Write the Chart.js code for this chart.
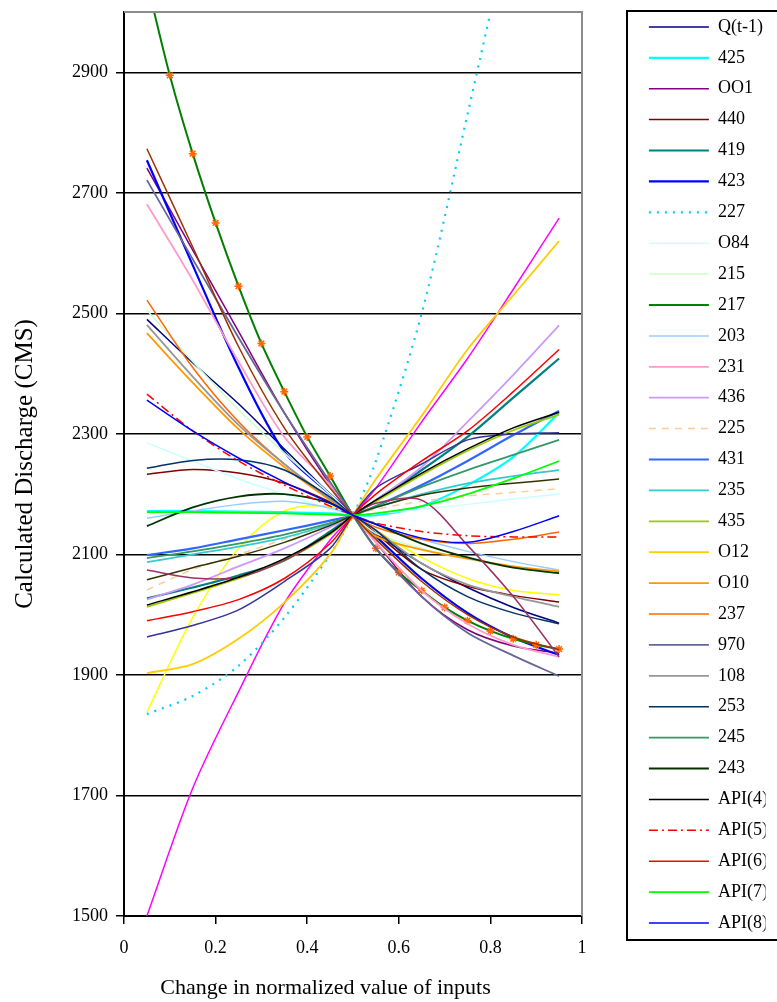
<!DOCTYPE html>
<html>
<head>
<meta charset="utf-8">
<script src="https://cdn.jsdelivr.net/npm/chart.js"></script>
<style>
html,body{margin:0;padding:0;background:#fff;overflow:hidden}
canvas{display:block}
</style>
</head>
<body>
<canvas id="c" width="777" height="1002"></canvas>
<script>
// ---- data ----
const xValues = [0.05,0.15,0.25,0.35,0.45,0.5,0.55,0.65,0.75,0.85,0.95];
const x217 = [0.05,0.1,0.15,0.2,0.25,0.3,0.35,0.4,0.45,0.5,0.55,0.6,0.65,0.7,0.75,0.8,0.85,0.9,0.95];
const yTicks = [1500,1700,1900,2100,2300,2500,2700,2900];
const xTicks = [0,0.2,0.4,0.6,0.8,1];

const qT1   = [2490,2418,2350,2275,2200,2165,2135,2085,2045,2012,1986];
const sMag  = [1500,1712,1872,2019,2124,2165,2210,2320,2425,2540,2658];
const sYel  = [1838,1995,2110,2172,2180,2165,2140,2095,2060,2040,2033];
const s425  = [2172,2172,2171,2170,2168,2165,2165,2180,2215,2262,2335];
const sOO1  = [2741,2605,2470,2335,2215,2165,2120,2030,1975,1948,1936];
const s440  = [2233,2241,2235,2218,2187,2165,2135,2075,2047,2032,2021];
const s419  = [2027,2045,2065,2090,2138,2165,2190,2240,2295,2360,2425];
const s423  = [2754,2580,2410,2270,2200,2165,2130,2060,2003,1962,1933];
const s227  = [1835,1865,1915,1995,2100,2165,2255,2500,2830,3170,3520];
const sO84  = [2285,2255,2225,2200,2175,2166,2168,2175,2183,2192,2200];
const s215  = [2505,2420,2340,2268,2200,2165,2135,2110,2092,2078,2068];
const s217  = [3050,2895,2765,2650,2545,2450,2370,2295,2230,2165,2110,2070,2040,2012,1990,1973,1960,1950,1943];
const s203  = [2160,2172,2183,2188,2177,2165,2150,2125,2105,2088,2074];
const s231  = [2681,2555,2420,2295,2215,2165,2120,2040,1985,1950,1930];
const s436  = [2025,2050,2080,2110,2145,2165,2190,2245,2320,2398,2480];
const s225  = [2041,2075,2100,2125,2150,2165,2175,2188,2197,2203,2209];
const s431  = [2099,2110,2125,2140,2156,2165,2180,2215,2255,2298,2338];
const s235  = [2087,2100,2113,2128,2150,2165,2178,2200,2218,2230,2240];
const s435  = [2013,2036,2060,2090,2133,2165,2188,2232,2272,2306,2332];
const sO12  = [1903,1918,1960,2020,2100,2165,2225,2330,2440,2530,2620];
const sO10  = [2467,2385,2308,2245,2190,2165,2130,2108,2093,2080,2072];
const s237  = [2522,2410,2320,2250,2192,2165,2145,2125,2118,2125,2137];
const s970  = [2721,2590,2460,2335,2220,2165,2110,2030,1970,1932,1898];
const s108  = [2481,2395,2315,2250,2192,2165,2140,2085,2050,2030,2013];
const s253  = [2243,2256,2257,2240,2195,2165,2140,2075,2030,2003,1985];
const s245  = [2094,2105,2118,2133,2152,2165,2180,2212,2240,2265,2290];
const s243  = [2147,2178,2196,2200,2185,2165,2150,2118,2095,2078,2069];
const sOliv = [2058,2078,2097,2120,2148,2165,2178,2198,2210,2218,2225];
const sBrwn = [2773,2610,2445,2310,2210,2165,2125,2055,2000,1963,1942];
const sMauv = [2074,2061,2062,2090,2135,2165,2185,2190,2115,2030,1930];
const sIndg = [1963,1982,2008,2055,2110,2165,2210,2250,2290,2300,2302];
const api4  = [2016,2038,2062,2093,2135,2165,2190,2235,2275,2310,2336];
const api5  = [2366,2305,2255,2215,2180,2165,2152,2138,2131,2129,2129];
const api6  = [1990,2005,2025,2060,2118,2165,2200,2255,2305,2370,2440];
const api7  = [2170,2170,2169,2168,2166,2165,2168,2180,2200,2226,2255];
const api8  = [2356,2305,2260,2220,2185,2165,2150,2127,2120,2138,2164];

// ---- series styling ----
const series = [
  {label:'Q(t-1)', v:qT1,  c:'#000080'},
  {label:'series 2', v:sMag, c:'#FF00FF', noLegend:true},
  {label:'series 3', v:sYel, c:'#FFFF00', noLegend:true},
  {label:'425',    v:s425, c:'#00FFFF', w:2.2},
  {label:'OO1',    v:sOO1, c:'#800080'},
  {label:'440',    v:s440, c:'#800000'},
  {label:'419',    v:s419, c:'#008080', w:2.2},
  {label:'423',    v:s423, c:'#0000FF', w:2.2},
  {label:'227',    v:s227, c:'#00CCFF', w:2.2, dash:[2,6]},
  {label:'O84',    v:sO84, c:'#CCFFFF'},
  {label:'215',    v:s215, c:'#CCFFCC'},
  {label:'217',    v:s217, xs:x217, c:'#008000', w:2, marker:'#FF6600'},
  {label:'203',    v:s203, c:'#99CCFF'},
  {label:'231',    v:s231, c:'#FF99CC', w:1.8},
  {label:'436',    v:s436, c:'#CC99FF', w:1.8},
  {label:'225',    v:s225, c:'#FFCC99', dash:[7,6]},
  {label:'431',    v:s431, c:'#3366FF', w:2.2},
  {label:'235',    v:s235, c:'#33CCCC', w:1.8},
  {label:'435',    v:s435, c:'#99CC00', w:1.8},
  {label:'O12',    v:sO12, c:'#FFCC00', w:1.8},
  {label:'O10',    v:sO10, c:'#FF9900', w:1.8},
  {label:'237',    v:s237, c:'#FF6600'},
  {label:'970',    v:s970, c:'#666699', w:1.8},
  {label:'108',    v:s108, c:'#969696', w:1.8},
  {label:'253',    v:s253, c:'#003366'},
  {label:'245',    v:s245, c:'#339966', w:1.8},
  {label:'243',    v:s243, c:'#003300', w:1.8},
  {label:'series 28', v:sOliv, c:'#333300', noLegend:true},
  {label:'series 29', v:sBrwn, c:'#993300', noLegend:true},
  {label:'series 30', v:sMauv, c:'#993366', noLegend:true},
  {label:'series 31', v:sIndg, c:'#333399', noLegend:true},
  {label:'API(4)', v:api4, c:'#000000'},
  {label:'API(5)', v:api5, c:'#FF0000', dash:[9,4,2,4]},
  {label:'API(6)', v:api6, c:'#FF0000'},
  {label:'API(7)', v:api7, c:'#00FF00', w:1.8},
  {label:'API(8)', v:api8, c:'#0000FF'}
];

const FONT = "'Liberation Serif', 'Times New Roman', serif";

const datasets = series.map((s, i) => ({
  label: s.label,
  data: (s.xs || xValues).map((x, j) => ({x: x, y: s.v[j]})),
  borderColor: s.c,
  backgroundColor: s.c,
  borderWidth: s.w || 1.5,
  borderDash: s.dash || [],
  pointRadius: s.marker ? 4 : 0,
  pointStyle: s.marker ? 'star' : 'circle',
  pointBorderColor: s.marker || s.c,
  pointBackgroundColor: s.marker || s.c,
  pointBorderWidth: 1.5,
  tension: 0.3,
  fill: false,
  order: -i,
  inLegend: !s.noLegend
}));

const PLOT_RIGHT = 582, PLOT_BOTTOM = 916, PLOT_LEFT = 124;

const framePlugin = {
  id: 'frame',
  afterLayout(chart) {
    const lg = chart.legend;
    if (lg) {
      const w = lg.width, h = lg.height;
      lg.left = 636; lg.right = 636 + w;
      lg.top = 5; lg.bottom = 5 + h;
    }
  },
  afterDatasetsDraw(chart) {
    const {ctx, chartArea: a} = chart;
    ctx.save();
    ctx.strokeStyle = '#8c8c8c';
    ctx.lineWidth = 2;
    ctx.beginPath();
    ctx.moveTo(a.left, a.top); ctx.lineTo(a.right, a.top); ctx.lineTo(a.right, a.bottom);
    ctx.stroke();
    ctx.restore();
  },
  afterDraw(chart) {
    const ctx = chart.ctx;
    ctx.save();
    ctx.strokeStyle = '#000';
    ctx.lineWidth = 2;
    ctx.strokeRect(627, 11, 200, 929);
    ctx.restore();
  }
};

new Chart(document.getElementById('c'), {
  type: 'line',
  data: {datasets},
  options: {
    responsive: false,
    animation: false,
    devicePixelRatio: 1,
    events: [],
    layout: {padding: {top: 12, right: 0, bottom: 0, left: 0}},
    plugins: {
      tooltip: {enabled: false},
      legend: {
        display: true,
        position: 'right',
        align: 'start',
        fullSize: true,
        labels: {
          usePointStyle: true,
          pointStyle: 'line',
          pointStyleWidth: 60,
          boxWidth: 60,
          boxHeight: 18,
          padding: 12.9,
          color: '#000',
          font: {family: FONT, size: 18},
          generateLabels: chart => chart.data.datasets.map((ds, i) => ({
            text: ds.label,
            fillStyle: ds.borderColor,
            strokeStyle: ds.borderColor,
            lineWidth: ds.borderWidth,
            lineDash: ds.borderDash,
            lineDashOffset: 0,
            lineCap: 'butt',
            lineJoin: 'miter',
            pointStyle: 'line',
            rotation: 0,
            hidden: false,
            fontColor: '#000',
            datasetIndex: i
          })),
          filter: (item, data) => data.datasets[item.datasetIndex].inLegend
        }
      }
    },
    scales: {
      x: {
        type: 'linear',
        position: 'bottom',
        min: 0, max: 1,
        afterBuildTicks: s => { s.ticks = xTicks.map(v => ({value: v})); },
        afterFit: s => { s.height = 1002 - PLOT_BOTTOM; s.paddingLeft = 0; s.paddingRight = 0; },
        ticks: {color: '#000', font: {family: FONT, size: 18}, padding: 13, maxRotation: 0,
                callback: v => String(v)},
        grid: {display: true, drawOnChartArea: false, drawTicks: true, tickLength: 8, color: '#000', lineWidth: 1.5},
        border: {display: true, color: '#000', width: 2},
        title: {display: true, text: 'Change in normalized value of inputs' + '\u00A0'.repeat(10), color: '#000',
                font: {family: FONT, size: 22}, padding: {top: 0, bottom: 1}}
      },
      y: {
        type: 'linear',
        position: 'left',
        min: 1500, max: 3000,
        afterBuildTicks: s => { s.ticks = yTicks.map(v => ({value: v})); },
        afterFit: s => { s.width = PLOT_LEFT; s.paddingTop = 0; s.paddingBottom = 0; },
        ticks: {color: '#000', font: {family: FONT, size: 18}, padding: 8, callback: v => String(v)},
        grid: {display: true, drawOnChartArea: true, drawTicks: true, tickLength: 8, color: '#000', lineWidth: 1.5},
        border: {display: true, color: '#000', width: 2},
        title: {display: true, text: 'Calculated Discharge (CMS)', color: '#000',
                font: {family: FONT, size: 25}, padding: {top: 10, bottom: 0}}
      },
      gap: {
        type: 'linear',
        axis: 'y',
        position: 'right',
        display: true,
        ticks: {display: false},
        grid: {display: false, drawTicks: false},
        border: {display: false},
        afterFit: s => {
          const lw = s.chart.legend ? s.chart.legend.width : 140;
          s.width = Math.max(0, s.chart.width - lw - PLOT_RIGHT);
          s.paddingTop = 0; s.paddingBottom = 0;
        }
      }
    }
  },
  plugins: [framePlugin]
});
</script>
</body>
</html>
